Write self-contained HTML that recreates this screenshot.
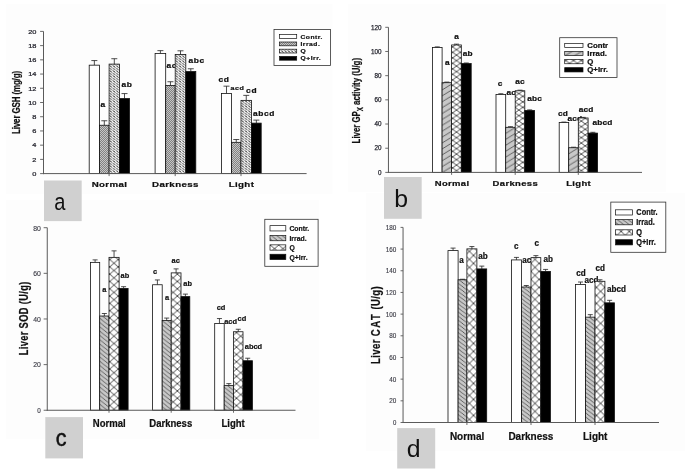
<!DOCTYPE html>
<html><head><meta charset="utf-8"><title>Figure</title>
<style>
html,body{margin:0;padding:0;background:#fff;}
body{width:685px;height:470px;overflow:hidden;font-family:"Liberation Sans", sans-serif;}
svg{display:block;filter:blur(0.45px);}
</style></head><body>
<svg width="685" height="470" viewBox="0 0 685 470" font-family='"Liberation Sans", sans-serif'>
<defs>
<pattern id="aI" width="2" height="2" patternUnits="userSpaceOnUse"><rect width="2" height="2" fill="#c6c6c6"/><path d="M-0.5 2.5L2.5 -0.5M-0.5 0.5L0.5 -0.5M1.5 2.5L2.5 1.5" stroke="#5c5c5c" stroke-width="0.65"/></pattern>
<pattern id="aQ" width="3.3" height="2.5" patternUnits="userSpaceOnUse" patternTransform="translate(109.1 0.3)"><rect width="3.3" height="2.5" fill="#fff"/><path d="M-0.4 -0.25L3.7 2.75" stroke="#555" stroke-width="0.4"/><path d="M0.45 0.33L2.85 2.02" stroke="#1a1a1a" stroke-width="0.78"/></pattern>
<pattern id="bI" width="9.6" height="5.9" patternUnits="userSpaceOnUse" patternTransform="translate(442.1 101.76)"><rect width="9.6" height="5.9" fill="#c8c8c8"/><path d="M-9.6 11.8L19.2 -5.9M-9.6 5.9L9.6 -5.9M0 11.8L19.2 0" stroke="#333" stroke-width="0.7"/></pattern>
<pattern id="bQ" width="7.8" height="5.5" patternUnits="userSpaceOnUse" patternTransform="translate(456.5 49.6)"><rect width="7.8" height="5.5" fill="#fff"/><path d="M0 0L7.8 5.5M7.8 0L0 5.5" stroke="#222" stroke-width="0.8"/></pattern>
<pattern id="cI" width="5.4" height="4.3" patternUnits="userSpaceOnUse" patternTransform="translate(99.7 0)"><rect width="5.4" height="4.3" fill="#c8c8c8"/><path d="M-5.4 -4.3L10.8 8.6M0 -4.3L10.8 4.3M-5.4 0L5.4 8.6" stroke="#333" stroke-width="0.7"/></pattern>
<pattern id="cQ" width="8.45" height="7.3" patternUnits="userSpaceOnUse" patternTransform="translate(236.5 332.55)"><rect width="8.45" height="7.3" fill="#fff"/><path d="M0 0L8.45 7.3M8.45 0L0 7.3" stroke="#222" stroke-width="0.8"/></pattern>
<pattern id="dI" width="5.4" height="4.1" patternUnits="userSpaceOnUse" patternTransform="translate(457.6 0)"><rect width="5.4" height="4.1" fill="#c8c8c8"/><path d="M-5.4 -4.1L10.8 8.2M0 -4.1L10.8 4.1M-5.4 0L5.4 8.2" stroke="#333" stroke-width="0.7"/></pattern>
<pattern id="dQ" width="8.2" height="8.0" patternUnits="userSpaceOnUse" patternTransform="translate(465.3 295.4)"><rect width="8.2" height="8.0" fill="#fff"/><path d="M0 0L8.2 8.0M8.2 0L0 8.0" stroke="#222" stroke-width="0.8"/></pattern>
</defs>
<rect width="685" height="470" fill="#fff"/>
<rect x="6" y="4" width="326.5" height="190" fill="#fdfdfd"/>
<rect x="348" y="4" width="318" height="188" fill="#fdfdfd"/>
<rect x="6" y="200" width="313" height="239" fill="#fdfdfd"/>
<rect x="366" y="193" width="319" height="258" fill="#fdfdfd"/>
<g id="chart-a">
<text transform="translate(100.40 107.30) scale(1.27 1)" font-size="6.6" font-weight="bold" text-anchor="start" fill="#111" letter-spacing="0.5" stroke="#111" stroke-width="0.22">a</text>
<text transform="translate(121.40 86.90) scale(1.27 1)" font-size="6.6" font-weight="bold" text-anchor="start" fill="#111" letter-spacing="0.5" stroke="#111" stroke-width="0.22">ab</text>
<text transform="translate(166.40 67.60) scale(1.27 1)" font-size="6.6" font-weight="bold" text-anchor="start" fill="#111" letter-spacing="0.5" stroke="#111" stroke-width="0.22">ac</text>
<text transform="translate(188.50 63.10) scale(1.27 1)" font-size="6.6" font-weight="bold" text-anchor="start" fill="#111" letter-spacing="0.5" stroke="#111" stroke-width="0.22">abc</text>
<text transform="translate(218.40 81.60) scale(1.27 1)" font-size="6.6" font-weight="bold" text-anchor="start" fill="#111" letter-spacing="0.5" stroke="#111" stroke-width="0.22">cd</text>
<text transform="translate(230.40 90.30) scale(1.27 1)" font-size="5.609999999999999" font-weight="bold" text-anchor="start" fill="#111" letter-spacing="0.5" stroke="#111" stroke-width="0.22">acd</text>
<text transform="translate(246.10 93.10) scale(1.27 1)" font-size="6.6" font-weight="bold" text-anchor="start" fill="#111" letter-spacing="0.5" stroke="#111" stroke-width="0.22">cd</text>
<text transform="translate(252.90 115.80) scale(1.27 1)" font-size="6.6" font-weight="bold" text-anchor="start" fill="#111" letter-spacing="0.5" stroke="#111" stroke-width="0.22">abcd</text>
<line x1="94.35" y1="65.17" x2="94.35" y2="60.57" stroke="#222" stroke-width="0.8"/>
<line x1="91.35" y1="60.57" x2="97.35" y2="60.57" stroke="#222" stroke-width="0.8"/>
<rect x="89.20" y="65.17" width="10.30" height="108.43" fill="#fff" stroke="#111" stroke-width="0.8"/>
<line x1="104.30" y1="125.25" x2="104.30" y2="120.75" stroke="#222" stroke-width="0.8"/>
<line x1="101.30" y1="120.75" x2="107.30" y2="120.75" stroke="#222" stroke-width="0.8"/>
<rect x="99.50" y="125.25" width="9.60" height="48.35" fill="url(#aI)" stroke="#111" stroke-width="0.8"/>
<line x1="114.30" y1="64.11" x2="114.30" y2="58.71" stroke="#222" stroke-width="0.8"/>
<line x1="111.30" y1="58.71" x2="117.30" y2="58.71" stroke="#222" stroke-width="0.8"/>
<rect x="109.10" y="64.11" width="10.40" height="109.49" fill="url(#aQ)" stroke="#111" stroke-width="0.8"/>
<line x1="124.50" y1="98.59" x2="124.50" y2="93.59" stroke="#222" stroke-width="0.8"/>
<line x1="121.50" y1="93.59" x2="127.50" y2="93.59" stroke="#222" stroke-width="0.8"/>
<rect x="119.50" y="98.59" width="10.00" height="75.01" fill="#000" stroke="#111" stroke-width="0.8"/>
<line x1="160.40" y1="53.44" x2="160.40" y2="50.64" stroke="#222" stroke-width="0.8"/>
<line x1="157.40" y1="50.64" x2="163.40" y2="50.64" stroke="#222" stroke-width="0.8"/>
<rect x="155.10" y="53.44" width="10.60" height="120.16" fill="#fff" stroke="#111" stroke-width="0.8"/>
<line x1="170.45" y1="85.44" x2="170.45" y2="81.74" stroke="#222" stroke-width="0.8"/>
<line x1="167.45" y1="81.74" x2="173.45" y2="81.74" stroke="#222" stroke-width="0.8"/>
<rect x="165.70" y="85.44" width="9.50" height="88.16" fill="url(#aI)" stroke="#111" stroke-width="0.8"/>
<line x1="180.50" y1="54.51" x2="180.50" y2="50.81" stroke="#222" stroke-width="0.8"/>
<line x1="177.50" y1="50.81" x2="183.50" y2="50.81" stroke="#222" stroke-width="0.8"/>
<rect x="175.20" y="54.51" width="10.60" height="119.09" fill="url(#aQ)" stroke="#111" stroke-width="0.8"/>
<line x1="190.80" y1="71.57" x2="190.80" y2="68.77" stroke="#222" stroke-width="0.8"/>
<line x1="187.80" y1="68.77" x2="193.80" y2="68.77" stroke="#222" stroke-width="0.8"/>
<rect x="185.80" y="71.57" width="10.00" height="102.03" fill="#000" stroke="#111" stroke-width="0.8"/>
<line x1="226.50" y1="93.47" x2="226.50" y2="86.17" stroke="#222" stroke-width="0.8"/>
<line x1="223.50" y1="86.17" x2="229.50" y2="86.17" stroke="#222" stroke-width="0.8"/>
<rect x="221.50" y="93.47" width="10.00" height="80.13" fill="#fff" stroke="#111" stroke-width="0.8"/>
<line x1="236.25" y1="142.32" x2="236.25" y2="139.52" stroke="#222" stroke-width="0.8"/>
<line x1="233.25" y1="139.52" x2="239.25" y2="139.52" stroke="#222" stroke-width="0.8"/>
<rect x="231.50" y="142.32" width="9.50" height="31.28" fill="url(#aI)" stroke="#111" stroke-width="0.8"/>
<line x1="246.25" y1="100.37" x2="246.25" y2="95.37" stroke="#222" stroke-width="0.8"/>
<line x1="243.25" y1="95.37" x2="249.25" y2="95.37" stroke="#222" stroke-width="0.8"/>
<rect x="241.00" y="100.37" width="10.50" height="73.23" fill="url(#aQ)" stroke="#111" stroke-width="0.8"/>
<line x1="256.35" y1="123.12" x2="256.35" y2="120.12" stroke="#222" stroke-width="0.8"/>
<line x1="253.35" y1="120.12" x2="259.35" y2="120.12" stroke="#222" stroke-width="0.8"/>
<rect x="251.50" y="123.12" width="9.70" height="50.48" fill="#000" stroke="#111" stroke-width="0.8"/>
<line x1="43.50" y1="31.40" x2="43.50" y2="174.10" stroke="#5a5a5a" stroke-width="1.0"/>
<line x1="43.00" y1="173.60" x2="306.60" y2="173.60" stroke="#5a5a5a" stroke-width="1.0"/>
<line x1="40.10" y1="173.60" x2="43.50" y2="173.60" stroke="#5a5a5a" stroke-width="0.9"/>
<text transform="translate(36.50 175.83) scale(1.2 1)" font-size="6.2" font-weight="normal" text-anchor="end" fill="#2a2a33" stroke="#2a2a33" stroke-width="0.25">0</text>
<line x1="40.10" y1="159.38" x2="43.50" y2="159.38" stroke="#5a5a5a" stroke-width="0.9"/>
<text transform="translate(36.50 161.61) scale(1.2 1)" font-size="6.2" font-weight="normal" text-anchor="end" fill="#2a2a33" stroke="#2a2a33" stroke-width="0.25">2</text>
<line x1="40.10" y1="145.16" x2="43.50" y2="145.16" stroke="#5a5a5a" stroke-width="0.9"/>
<text transform="translate(36.50 147.39) scale(1.2 1)" font-size="6.2" font-weight="normal" text-anchor="end" fill="#2a2a33" stroke="#2a2a33" stroke-width="0.25">4</text>
<line x1="40.10" y1="130.94" x2="43.50" y2="130.94" stroke="#5a5a5a" stroke-width="0.9"/>
<text transform="translate(36.50 133.17) scale(1.2 1)" font-size="6.2" font-weight="normal" text-anchor="end" fill="#2a2a33" stroke="#2a2a33" stroke-width="0.25">6</text>
<line x1="40.10" y1="116.72" x2="43.50" y2="116.72" stroke="#5a5a5a" stroke-width="0.9"/>
<text transform="translate(36.50 118.95) scale(1.2 1)" font-size="6.2" font-weight="normal" text-anchor="end" fill="#2a2a33" stroke="#2a2a33" stroke-width="0.25">8</text>
<line x1="40.10" y1="102.50" x2="43.50" y2="102.50" stroke="#5a5a5a" stroke-width="0.9"/>
<text transform="translate(36.50 104.73) scale(1.2 1)" font-size="6.2" font-weight="normal" text-anchor="end" fill="#2a2a33" stroke="#2a2a33" stroke-width="0.25">10</text>
<line x1="40.10" y1="88.28" x2="43.50" y2="88.28" stroke="#5a5a5a" stroke-width="0.9"/>
<text transform="translate(36.50 90.51) scale(1.2 1)" font-size="6.2" font-weight="normal" text-anchor="end" fill="#2a2a33" stroke="#2a2a33" stroke-width="0.25">12</text>
<line x1="40.10" y1="74.06" x2="43.50" y2="74.06" stroke="#5a5a5a" stroke-width="0.9"/>
<text transform="translate(36.50 76.29) scale(1.2 1)" font-size="6.2" font-weight="normal" text-anchor="end" fill="#2a2a33" stroke="#2a2a33" stroke-width="0.25">14</text>
<line x1="40.10" y1="59.84" x2="43.50" y2="59.84" stroke="#5a5a5a" stroke-width="0.9"/>
<text transform="translate(36.50 62.07) scale(1.2 1)" font-size="6.2" font-weight="normal" text-anchor="end" fill="#2a2a33" stroke="#2a2a33" stroke-width="0.25">16</text>
<line x1="40.10" y1="45.62" x2="43.50" y2="45.62" stroke="#5a5a5a" stroke-width="0.9"/>
<text transform="translate(36.50 47.85) scale(1.2 1)" font-size="6.2" font-weight="normal" text-anchor="end" fill="#2a2a33" stroke="#2a2a33" stroke-width="0.25">18</text>
<line x1="40.10" y1="31.40" x2="43.50" y2="31.40" stroke="#5a5a5a" stroke-width="0.9"/>
<text transform="translate(36.50 33.63) scale(1.2 1)" font-size="6.2" font-weight="normal" text-anchor="end" fill="#2a2a33" stroke="#2a2a33" stroke-width="0.25">20</text>
<line x1="109.10" y1="173.60" x2="109.10" y2="176.10" stroke="#5a5a5a" stroke-width="0.9"/>
<text transform="translate(91.70 187.20) scale(1.2 1)" font-size="8.1" font-weight="bold" text-anchor="start" fill="#111" letter-spacing="0.3" stroke="#111" stroke-width="0.22">Normal</text>
<line x1="175.20" y1="173.60" x2="175.20" y2="176.10" stroke="#5a5a5a" stroke-width="0.9"/>
<text transform="translate(152.10 187.20) scale(1.2 1)" font-size="8.1" font-weight="bold" text-anchor="start" fill="#111" letter-spacing="0.3" stroke="#111" stroke-width="0.22">Darkness</text>
<line x1="241.00" y1="173.60" x2="241.00" y2="176.10" stroke="#5a5a5a" stroke-width="0.9"/>
<text transform="translate(228.70 187.20) scale(1.2 1)" font-size="8.1" font-weight="bold" text-anchor="start" fill="#111" letter-spacing="0.3" stroke="#111" stroke-width="0.22">Light</text>
<text transform="translate(19.70 134.00) rotate(-90) scale(0.78 1)" font-size="10.2" font-weight="bold" text-anchor="start" fill="#111" letter-spacing="-0.15" stroke="#111" stroke-width="0.22">Liver GSH (mg/g)</text>
<rect x="274.00" y="29.40" width="56.40" height="36.10" fill="#fff" stroke="#333" stroke-width="0.8"/>
<rect x="279.60" y="34.60" width="17.10" height="3.80" fill="#fff" stroke="#111" stroke-width="0.7"/>
<text transform="translate(300.50 38.54) scale(1.12 1)" font-size="6.0" font-weight="bold" text-anchor="start" fill="#111" letter-spacing="0.45" stroke="#111" stroke-width="0.22">Contr.</text>
<rect x="279.60" y="42.00" width="17.10" height="3.80" fill="url(#aI)" stroke="#111" stroke-width="0.7"/>
<text transform="translate(300.50 45.94) scale(1.12 1)" font-size="6.0" font-weight="bold" text-anchor="start" fill="#111" letter-spacing="0.45" stroke="#111" stroke-width="0.22">Irrad.</text>
<rect x="279.60" y="49.20" width="17.10" height="3.80" fill="url(#aQ)" stroke="#111" stroke-width="0.7"/>
<text transform="translate(300.50 53.14) scale(1.12 1)" font-size="6.0" font-weight="bold" text-anchor="start" fill="#111" letter-spacing="0.45" stroke="#111" stroke-width="0.22">Q</text>
<rect x="279.60" y="56.40" width="17.10" height="3.80" fill="#000" stroke="#111" stroke-width="0.7"/>
<text transform="translate(300.50 60.34) scale(1.12 1)" font-size="6.0" font-weight="bold" text-anchor="start" fill="#111" letter-spacing="0.45" stroke="#111" stroke-width="0.22">Q+Irr.</text>
<rect x="44.00" y="180.50" width="37.70" height="40.60" fill="#d0d0d0"/>
<text transform="translate(59.80 209.60) scale(0.82 1)" font-size="24.5" font-weight="normal" text-anchor="middle" fill="#111">a</text>
</g>
<g id="chart-b">
<text transform="translate(454.20 38.70) scale(1.15 1)" font-size="7.2" font-weight="bold" text-anchor="start" fill="#111" letter-spacing="0.15" stroke="#111" stroke-width="0.22">a</text>
<text transform="translate(445.00 64.60) scale(1.15 1)" font-size="7.2" font-weight="bold" text-anchor="start" fill="#111" letter-spacing="0.15" stroke="#111" stroke-width="0.22">a</text>
<text transform="translate(462.80 55.90) scale(1.15 1)" font-size="7.2" font-weight="bold" text-anchor="start" fill="#111" letter-spacing="0.15" stroke="#111" stroke-width="0.22">ab</text>
<text transform="translate(497.80 85.60) scale(1.15 1)" font-size="7.2" font-weight="bold" text-anchor="start" fill="#111" letter-spacing="0.15" stroke="#111" stroke-width="0.22">c</text>
<text transform="translate(506.40 95.30) scale(1.15 1)" font-size="7.2" font-weight="bold" text-anchor="start" fill="#111" letter-spacing="0.15" stroke="#111" stroke-width="0.22">ac</text>
<text transform="translate(515.20 84.00) scale(1.15 1)" font-size="7.2" font-weight="bold" text-anchor="start" fill="#111" letter-spacing="0.15" stroke="#111" stroke-width="0.22">ac</text>
<text transform="translate(527.30 101.00) scale(1.15 1)" font-size="7.2" font-weight="bold" text-anchor="start" fill="#111" letter-spacing="0.15" stroke="#111" stroke-width="0.22">abc</text>
<text transform="translate(558.00 116.20) scale(1.15 1)" font-size="7.2" font-weight="bold" text-anchor="start" fill="#111" letter-spacing="0.15" stroke="#111" stroke-width="0.22">cd</text>
<text transform="translate(567.50 121.30) scale(1.15 1)" font-size="7.2" font-weight="bold" text-anchor="start" fill="#111" letter-spacing="0.15" stroke="#111" stroke-width="0.22">acd</text>
<text transform="translate(578.80 111.90) scale(1.15 1)" font-size="7.2" font-weight="bold" text-anchor="start" fill="#111" letter-spacing="0.15" stroke="#111" stroke-width="0.22">acd</text>
<text transform="translate(592.40 124.50) scale(1.15 1)" font-size="7.2" font-weight="bold" text-anchor="start" fill="#111" letter-spacing="0.15" stroke="#111" stroke-width="0.22">abcd</text>
<line x1="437.25" y1="47.49" x2="437.25" y2="46.89" stroke="#222" stroke-width="0.8"/>
<line x1="434.75" y1="46.89" x2="439.75" y2="46.89" stroke="#222" stroke-width="0.8"/>
<rect x="432.40" y="47.49" width="9.70" height="124.91" fill="#fff" stroke="#111" stroke-width="0.8"/>
<line x1="446.85" y1="82.68" x2="446.85" y2="82.08" stroke="#222" stroke-width="0.8"/>
<line x1="444.35" y1="82.08" x2="449.35" y2="82.08" stroke="#222" stroke-width="0.8"/>
<rect x="442.10" y="82.68" width="9.50" height="89.72" fill="url(#bI)" stroke="#111" stroke-width="0.8"/>
<line x1="456.45" y1="44.95" x2="456.45" y2="44.15" stroke="#222" stroke-width="0.8"/>
<line x1="453.95" y1="44.15" x2="458.95" y2="44.15" stroke="#222" stroke-width="0.8"/>
<rect x="451.60" y="44.95" width="9.70" height="127.45" fill="url(#bQ)" stroke="#111" stroke-width="0.8"/>
<line x1="466.25" y1="63.58" x2="466.25" y2="62.98" stroke="#222" stroke-width="0.8"/>
<line x1="463.75" y1="62.98" x2="468.75" y2="62.98" stroke="#222" stroke-width="0.8"/>
<rect x="461.30" y="63.58" width="9.90" height="108.83" fill="#000" stroke="#111" stroke-width="0.8"/>
<line x1="500.85" y1="94.53" x2="500.85" y2="93.73" stroke="#222" stroke-width="0.8"/>
<line x1="498.35" y1="93.73" x2="503.35" y2="93.73" stroke="#222" stroke-width="0.8"/>
<rect x="496.00" y="94.53" width="9.70" height="77.87" fill="#fff" stroke="#111" stroke-width="0.8"/>
<line x1="510.45" y1="127.30" x2="510.45" y2="126.70" stroke="#222" stroke-width="0.8"/>
<line x1="507.95" y1="126.70" x2="512.95" y2="126.70" stroke="#222" stroke-width="0.8"/>
<rect x="505.70" y="127.30" width="9.50" height="45.10" fill="url(#bI)" stroke="#111" stroke-width="0.8"/>
<line x1="520.00" y1="90.78" x2="520.00" y2="90.18" stroke="#222" stroke-width="0.8"/>
<line x1="517.50" y1="90.18" x2="522.50" y2="90.18" stroke="#222" stroke-width="0.8"/>
<rect x="515.20" y="90.78" width="9.60" height="81.62" fill="url(#bQ)" stroke="#111" stroke-width="0.8"/>
<line x1="529.70" y1="110.49" x2="529.70" y2="109.89" stroke="#222" stroke-width="0.8"/>
<line x1="527.20" y1="109.89" x2="532.20" y2="109.89" stroke="#222" stroke-width="0.8"/>
<rect x="524.80" y="110.49" width="9.80" height="61.91" fill="#000" stroke="#111" stroke-width="0.8"/>
<line x1="563.95" y1="122.58" x2="563.95" y2="122.08" stroke="#222" stroke-width="0.8"/>
<line x1="561.45" y1="122.08" x2="566.45" y2="122.08" stroke="#222" stroke-width="0.8"/>
<rect x="559.20" y="122.58" width="9.50" height="49.82" fill="#fff" stroke="#111" stroke-width="0.8"/>
<line x1="573.50" y1="147.73" x2="573.50" y2="147.23" stroke="#222" stroke-width="0.8"/>
<line x1="571.00" y1="147.23" x2="576.00" y2="147.23" stroke="#222" stroke-width="0.8"/>
<rect x="568.70" y="147.73" width="9.60" height="24.67" fill="url(#bI)" stroke="#111" stroke-width="0.8"/>
<line x1="583.20" y1="117.99" x2="583.20" y2="117.39" stroke="#222" stroke-width="0.8"/>
<line x1="580.70" y1="117.39" x2="585.70" y2="117.39" stroke="#222" stroke-width="0.8"/>
<rect x="578.30" y="117.99" width="9.80" height="54.41" fill="url(#bQ)" stroke="#111" stroke-width="0.8"/>
<line x1="592.85" y1="133.10" x2="592.85" y2="132.30" stroke="#222" stroke-width="0.8"/>
<line x1="590.35" y1="132.30" x2="595.35" y2="132.30" stroke="#222" stroke-width="0.8"/>
<rect x="588.10" y="133.10" width="9.50" height="39.30" fill="#000" stroke="#111" stroke-width="0.8"/>
<line x1="388.45" y1="27.30" x2="388.45" y2="172.90" stroke="#5a5a5a" stroke-width="1.0"/>
<line x1="387.95" y1="172.40" x2="642.00" y2="172.40" stroke="#5a5a5a" stroke-width="1.0"/>
<line x1="385.25" y1="172.40" x2="388.45" y2="172.40" stroke="#5a5a5a" stroke-width="0.9"/>
<text transform="translate(381.45 174.67)" font-size="6.3" font-weight="normal" text-anchor="end" fill="#2a2a33" stroke="#2a2a33" stroke-width="0.25">0</text>
<line x1="385.25" y1="148.22" x2="388.45" y2="148.22" stroke="#5a5a5a" stroke-width="0.9"/>
<text transform="translate(381.45 150.48)" font-size="6.3" font-weight="normal" text-anchor="end" fill="#2a2a33" stroke="#2a2a33" stroke-width="0.25">20</text>
<line x1="385.25" y1="124.03" x2="388.45" y2="124.03" stroke="#5a5a5a" stroke-width="0.9"/>
<text transform="translate(381.45 126.30)" font-size="6.3" font-weight="normal" text-anchor="end" fill="#2a2a33" stroke="#2a2a33" stroke-width="0.25">40</text>
<line x1="385.25" y1="99.85" x2="388.45" y2="99.85" stroke="#5a5a5a" stroke-width="0.9"/>
<text transform="translate(381.45 102.12)" font-size="6.3" font-weight="normal" text-anchor="end" fill="#2a2a33" stroke="#2a2a33" stroke-width="0.25">60</text>
<line x1="385.25" y1="75.67" x2="388.45" y2="75.67" stroke="#5a5a5a" stroke-width="0.9"/>
<text transform="translate(381.45 77.93)" font-size="6.3" font-weight="normal" text-anchor="end" fill="#2a2a33" stroke="#2a2a33" stroke-width="0.25">80</text>
<line x1="385.25" y1="51.48" x2="388.45" y2="51.48" stroke="#5a5a5a" stroke-width="0.9"/>
<text transform="translate(381.45 53.75)" font-size="6.3" font-weight="normal" text-anchor="end" fill="#2a2a33" stroke="#2a2a33" stroke-width="0.25">100</text>
<line x1="385.25" y1="27.30" x2="388.45" y2="27.30" stroke="#5a5a5a" stroke-width="0.9"/>
<text transform="translate(381.45 29.57)" font-size="6.3" font-weight="normal" text-anchor="end" fill="#2a2a33" stroke="#2a2a33" stroke-width="0.25">120</text>
<line x1="451.60" y1="172.40" x2="451.60" y2="174.90" stroke="#5a5a5a" stroke-width="0.9"/>
<text transform="translate(434.70 185.70) scale(1.17 1)" font-size="8.1" font-weight="bold" text-anchor="start" fill="#111" letter-spacing="0.3" stroke="#111" stroke-width="0.22">Normal</text>
<line x1="515.20" y1="172.40" x2="515.20" y2="174.90" stroke="#5a5a5a" stroke-width="0.9"/>
<text transform="translate(492.60 185.70) scale(1.17 1)" font-size="8.1" font-weight="bold" text-anchor="start" fill="#111" letter-spacing="0.3" stroke="#111" stroke-width="0.22">Darkness</text>
<line x1="578.30" y1="172.40" x2="578.30" y2="174.90" stroke="#5a5a5a" stroke-width="0.9"/>
<text transform="translate(566.20 185.70) scale(1.17 1)" font-size="8.1" font-weight="bold" text-anchor="start" fill="#111" letter-spacing="0.3" stroke="#111" stroke-width="0.22">Light</text>
<text transform="translate(360.20 143.40) rotate(-90) scale(0.725 1)" font-size="10.8" font-weight="bold" text-anchor="start" fill="#111" stroke="#111" stroke-width="0.22">Liver GP<tspan font-size="8.5" dy="2.4">X</tspan><tspan dy="-2.4"> activity (U/g)</tspan></text>
<rect x="559.70" y="37.70" width="57.30" height="39.70" fill="#fff" stroke="#333" stroke-width="0.8"/>
<rect x="564.70" y="43.35" width="18.30" height="4.30" fill="#fff" stroke="#111" stroke-width="0.7"/>
<text transform="translate(587.30 47.81) scale(1.15 1)" font-size="6.8" font-weight="bold" text-anchor="start" fill="#111" stroke="#111" stroke-width="0.22">Contr</text>
<rect x="564.70" y="51.35" width="18.30" height="4.30" fill="url(#bI)" stroke="#111" stroke-width="0.7"/>
<text transform="translate(587.30 55.81) scale(1.15 1)" font-size="6.8" font-weight="bold" text-anchor="start" fill="#111" stroke="#111" stroke-width="0.22">Irrad.</text>
<rect x="564.70" y="59.45" width="18.30" height="4.30" fill="url(#bQ)" stroke="#111" stroke-width="0.7"/>
<text transform="translate(587.30 63.91) scale(1.15 1)" font-size="6.8" font-weight="bold" text-anchor="start" fill="#111" stroke="#111" stroke-width="0.22">Q</text>
<rect x="564.70" y="67.65" width="18.30" height="4.30" fill="#000" stroke="#111" stroke-width="0.7"/>
<text transform="translate(587.30 72.11) scale(1.15 1)" font-size="6.8" font-weight="bold" text-anchor="start" fill="#111" stroke="#111" stroke-width="0.22">Q+Irr.</text>
<rect x="384.00" y="177.00" width="37.70" height="41.80" fill="#d0d0d0"/>
<text transform="translate(401.20 206.50)" font-size="24.8" font-weight="normal" text-anchor="middle" fill="#111">b</text>
</g>
<g id="chart-c">
<text transform="translate(102.30 291.90) scale(0.92 1)" font-size="8.1" font-weight="bold" text-anchor="start" fill="#111" stroke="#111" stroke-width="0.22">a</text>
<text transform="translate(120.60 278.40) scale(0.92 1)" font-size="8.1" font-weight="bold" text-anchor="start" fill="#111" stroke="#111" stroke-width="0.22">ab</text>
<text transform="translate(153.00 274.40) scale(0.92 1)" font-size="8.1" font-weight="bold" text-anchor="start" fill="#111" stroke="#111" stroke-width="0.22">c</text>
<text transform="translate(165.00 300.20) scale(0.92 1)" font-size="8.1" font-weight="bold" text-anchor="start" fill="#111" stroke="#111" stroke-width="0.22">a</text>
<text transform="translate(171.50 262.60) scale(0.92 1)" font-size="8.1" font-weight="bold" text-anchor="start" fill="#111" stroke="#111" stroke-width="0.22">ac</text>
<text transform="translate(183.30 286.40) scale(0.92 1)" font-size="8.1" font-weight="bold" text-anchor="start" fill="#111" stroke="#111" stroke-width="0.22">ab</text>
<text transform="translate(216.70 310.40) scale(0.92 1)" font-size="8.1" font-weight="bold" text-anchor="start" fill="#111" stroke="#111" stroke-width="0.22">cd</text>
<text transform="translate(224.20 324.20) scale(0.92 1)" font-size="8.1" font-weight="bold" text-anchor="start" fill="#111" stroke="#111" stroke-width="0.22">acd</text>
<text transform="translate(237.50 321.10) scale(0.92 1)" font-size="8.1" font-weight="bold" text-anchor="start" fill="#111" stroke="#111" stroke-width="0.22">cd</text>
<text transform="translate(244.80 349.40) scale(0.92 1)" font-size="8.1" font-weight="bold" text-anchor="start" fill="#111" stroke="#111" stroke-width="0.22">abcd</text>
<line x1="95.10" y1="262.38" x2="95.10" y2="259.88" stroke="#222" stroke-width="0.8"/>
<line x1="92.60" y1="259.88" x2="97.60" y2="259.88" stroke="#222" stroke-width="0.8"/>
<rect x="90.50" y="262.38" width="9.20" height="147.87" fill="#fff" stroke="#111" stroke-width="0.8"/>
<line x1="104.35" y1="316.01" x2="104.35" y2="313.51" stroke="#222" stroke-width="0.8"/>
<line x1="101.85" y1="313.51" x2="106.85" y2="313.51" stroke="#222" stroke-width="0.8"/>
<rect x="99.70" y="316.01" width="9.30" height="94.24" fill="url(#cI)" stroke="#111" stroke-width="0.8"/>
<line x1="114.05" y1="257.36" x2="114.05" y2="250.86" stroke="#222" stroke-width="0.8"/>
<line x1="111.55" y1="250.86" x2="116.55" y2="250.86" stroke="#222" stroke-width="0.8"/>
<rect x="109.00" y="257.36" width="10.10" height="152.89" fill="url(#cQ)" stroke="#111" stroke-width="0.8"/>
<line x1="123.60" y1="288.40" x2="123.60" y2="286.70" stroke="#222" stroke-width="0.8"/>
<line x1="121.10" y1="286.70" x2="126.10" y2="286.70" stroke="#222" stroke-width="0.8"/>
<rect x="119.10" y="288.40" width="9.00" height="121.85" fill="#000" stroke="#111" stroke-width="0.8"/>
<line x1="157.40" y1="284.75" x2="157.40" y2="279.95" stroke="#222" stroke-width="0.8"/>
<line x1="154.90" y1="279.95" x2="159.90" y2="279.95" stroke="#222" stroke-width="0.8"/>
<rect x="152.60" y="284.75" width="9.60" height="125.50" fill="#fff" stroke="#111" stroke-width="0.8"/>
<line x1="166.70" y1="320.57" x2="166.70" y2="318.07" stroke="#222" stroke-width="0.8"/>
<line x1="164.20" y1="318.07" x2="169.20" y2="318.07" stroke="#222" stroke-width="0.8"/>
<rect x="162.20" y="320.57" width="9.00" height="89.68" fill="url(#cI)" stroke="#111" stroke-width="0.8"/>
<line x1="176.10" y1="272.88" x2="176.10" y2="268.88" stroke="#222" stroke-width="0.8"/>
<line x1="173.60" y1="268.88" x2="178.60" y2="268.88" stroke="#222" stroke-width="0.8"/>
<rect x="171.20" y="272.88" width="9.80" height="137.37" fill="url(#cQ)" stroke="#111" stroke-width="0.8"/>
<line x1="185.40" y1="296.61" x2="185.40" y2="294.11" stroke="#222" stroke-width="0.8"/>
<line x1="182.90" y1="294.11" x2="187.90" y2="294.11" stroke="#222" stroke-width="0.8"/>
<rect x="181.00" y="296.61" width="8.80" height="113.64" fill="#000" stroke="#111" stroke-width="0.8"/>
<line x1="219.45" y1="323.54" x2="219.45" y2="318.54" stroke="#222" stroke-width="0.8"/>
<line x1="216.95" y1="318.54" x2="221.95" y2="318.54" stroke="#222" stroke-width="0.8"/>
<rect x="214.70" y="323.54" width="9.50" height="86.71" fill="#fff" stroke="#111" stroke-width="0.8"/>
<line x1="228.85" y1="385.61" x2="228.85" y2="383.61" stroke="#222" stroke-width="0.8"/>
<line x1="226.35" y1="383.61" x2="231.35" y2="383.61" stroke="#222" stroke-width="0.8"/>
<rect x="224.20" y="385.61" width="9.30" height="24.64" fill="url(#cI)" stroke="#111" stroke-width="0.8"/>
<line x1="238.25" y1="331.75" x2="238.25" y2="329.25" stroke="#222" stroke-width="0.8"/>
<line x1="235.75" y1="329.25" x2="240.75" y2="329.25" stroke="#222" stroke-width="0.8"/>
<rect x="233.50" y="331.75" width="9.50" height="78.50" fill="url(#cQ)" stroke="#111" stroke-width="0.8"/>
<line x1="247.70" y1="360.73" x2="247.70" y2="358.23" stroke="#222" stroke-width="0.8"/>
<line x1="245.20" y1="358.23" x2="250.20" y2="358.23" stroke="#222" stroke-width="0.8"/>
<rect x="243.00" y="360.73" width="9.40" height="49.52" fill="#000" stroke="#111" stroke-width="0.8"/>
<line x1="47.25" y1="227.70" x2="47.25" y2="410.75" stroke="#5a5a5a" stroke-width="1.0"/>
<line x1="46.75" y1="410.25" x2="295.50" y2="410.25" stroke="#5a5a5a" stroke-width="1.0"/>
<line x1="43.65" y1="410.25" x2="47.25" y2="410.25" stroke="#5a5a5a" stroke-width="0.9"/>
<text transform="translate(40.85 412.84) scale(0.88 1)" font-size="7.2" font-weight="normal" text-anchor="end" fill="#3c3c46" stroke="#3c3c46" stroke-width="0.15">0</text>
<line x1="43.65" y1="364.61" x2="47.25" y2="364.61" stroke="#5a5a5a" stroke-width="0.9"/>
<text transform="translate(40.85 367.42) scale(0.88 1)" font-size="7.8" font-weight="normal" text-anchor="end" fill="#3c3c46" stroke="#3c3c46" stroke-width="0.15">20</text>
<line x1="43.65" y1="318.98" x2="47.25" y2="318.98" stroke="#5a5a5a" stroke-width="0.9"/>
<text transform="translate(40.85 321.78) scale(0.88 1)" font-size="7.8" font-weight="normal" text-anchor="end" fill="#3c3c46" stroke="#3c3c46" stroke-width="0.15">40</text>
<line x1="43.65" y1="273.34" x2="47.25" y2="273.34" stroke="#5a5a5a" stroke-width="0.9"/>
<text transform="translate(40.85 276.15) scale(0.88 1)" font-size="7.8" font-weight="normal" text-anchor="end" fill="#3c3c46" stroke="#3c3c46" stroke-width="0.15">60</text>
<line x1="43.65" y1="227.70" x2="47.25" y2="227.70" stroke="#5a5a5a" stroke-width="0.9"/>
<text transform="translate(40.85 230.51) scale(0.88 1)" font-size="7.8" font-weight="normal" text-anchor="end" fill="#3c3c46" stroke="#3c3c46" stroke-width="0.15">80</text>
<line x1="109.00" y1="410.25" x2="109.00" y2="412.75" stroke="#5a5a5a" stroke-width="0.9"/>
<text transform="translate(92.80 426.90) scale(0.91 1)" font-size="10.5" font-weight="bold" text-anchor="start" fill="#111" stroke="#111" stroke-width="0.22">Normal</text>
<line x1="171.20" y1="410.25" x2="171.20" y2="412.75" stroke="#5a5a5a" stroke-width="0.9"/>
<text transform="translate(149.30 426.90) scale(0.91 1)" font-size="10.5" font-weight="bold" text-anchor="start" fill="#111" stroke="#111" stroke-width="0.22">Darkness</text>
<line x1="233.50" y1="410.25" x2="233.50" y2="412.75" stroke="#5a5a5a" stroke-width="0.9"/>
<text transform="translate(221.50 426.90) scale(0.91 1)" font-size="10.5" font-weight="bold" text-anchor="start" fill="#111" stroke="#111" stroke-width="0.22">Light</text>
<text transform="translate(27.50 355.30) rotate(-90) scale(0.77 1)" font-size="12" font-weight="bold" text-anchor="start" fill="#111" letter-spacing="0.5" stroke="#111" stroke-width="0.22">Liver SOD (U/g)</text>
<rect x="264.80" y="219.30" width="53.30" height="47.00" fill="#fff" stroke="#333" stroke-width="0.8"/>
<rect x="270.00" y="225.65" width="15.80" height="5.30" fill="#fff" stroke="#111" stroke-width="0.7"/>
<text transform="translate(289.40 231.02) scale(0.86 1)" font-size="8" font-weight="bold" text-anchor="start" fill="#111" stroke="#111" stroke-width="0.22">Contr.</text>
<rect x="270.00" y="235.45" width="15.80" height="5.30" fill="url(#cI)" stroke="#111" stroke-width="0.7"/>
<text transform="translate(289.40 240.82) scale(0.86 1)" font-size="8" font-weight="bold" text-anchor="start" fill="#111" stroke="#111" stroke-width="0.22">Irrad.</text>
<rect x="270.00" y="244.85" width="15.80" height="5.30" fill="url(#cQ)" stroke="#111" stroke-width="0.7"/>
<text transform="translate(289.40 250.22) scale(0.86 1)" font-size="8" font-weight="bold" text-anchor="start" fill="#111" stroke="#111" stroke-width="0.22">Q</text>
<rect x="270.00" y="254.25" width="15.80" height="5.30" fill="#000" stroke="#111" stroke-width="0.7"/>
<text transform="translate(289.40 259.62) scale(0.86 1)" font-size="8" font-weight="bold" text-anchor="start" fill="#111" stroke="#111" stroke-width="0.22">Q+Irr.</text>
<rect x="45.30" y="417.10" width="37.70" height="41.30" fill="#d0d0d0"/>
<text transform="translate(61.20 446.30) scale(0.88 1)" font-size="24.5" font-weight="normal" text-anchor="middle" fill="#111" stroke="#111" stroke-width="0.5">c</text>
</g>
<g id="chart-d">
<text transform="translate(459.20 263.20) scale(0.93 1)" font-size="8.7" font-weight="bold" text-anchor="start" fill="#111" stroke="#111" stroke-width="0.22">a</text>
<text transform="translate(478.30 259.40) scale(0.93 1)" font-size="8.7" font-weight="bold" text-anchor="start" fill="#111" stroke="#111" stroke-width="0.22">ab</text>
<text transform="translate(514.00 249.40) scale(0.93 1)" font-size="8.7" font-weight="bold" text-anchor="start" fill="#111" stroke="#111" stroke-width="0.22">c</text>
<text transform="translate(522.30 262.70) scale(0.93 1)" font-size="8.7" font-weight="bold" text-anchor="start" fill="#111" stroke="#111" stroke-width="0.22">ac</text>
<text transform="translate(534.60 246.10) scale(0.93 1)" font-size="8.7" font-weight="bold" text-anchor="start" fill="#111" stroke="#111" stroke-width="0.22">c</text>
<text transform="translate(543.60 262.40) scale(0.93 1)" font-size="8.7" font-weight="bold" text-anchor="start" fill="#111" stroke="#111" stroke-width="0.22">ab</text>
<text transform="translate(576.30 276.30) scale(0.93 1)" font-size="8.7" font-weight="bold" text-anchor="start" fill="#111" stroke="#111" stroke-width="0.22">cd</text>
<text transform="translate(584.60 282.80) scale(0.93 1)" font-size="8.7" font-weight="bold" text-anchor="start" fill="#111" stroke="#111" stroke-width="0.22">acd</text>
<text transform="translate(595.60 271.20) scale(0.93 1)" font-size="8.7" font-weight="bold" text-anchor="start" fill="#111" stroke="#111" stroke-width="0.22">cd</text>
<text transform="translate(607.00 292.10) scale(0.93 1)" font-size="8.7" font-weight="bold" text-anchor="start" fill="#111" stroke="#111" stroke-width="0.22">abcd</text>
<line x1="453.05" y1="250.60" x2="453.05" y2="248.10" stroke="#222" stroke-width="0.8"/>
<line x1="450.55" y1="248.10" x2="455.55" y2="248.10" stroke="#222" stroke-width="0.8"/>
<rect x="448.00" y="250.60" width="10.10" height="171.90" fill="#fff" stroke="#111" stroke-width="0.8"/>
<line x1="462.50" y1="279.75" x2="462.50" y2="279.25" stroke="#222" stroke-width="0.8"/>
<line x1="460.00" y1="279.25" x2="465.00" y2="279.25" stroke="#222" stroke-width="0.8"/>
<rect x="458.10" y="279.75" width="8.80" height="142.75" fill="url(#dI)" stroke="#111" stroke-width="0.8"/>
<line x1="471.90" y1="248.86" x2="471.90" y2="246.56" stroke="#222" stroke-width="0.8"/>
<line x1="469.40" y1="246.56" x2="474.40" y2="246.56" stroke="#222" stroke-width="0.8"/>
<rect x="466.90" y="248.86" width="10.00" height="173.64" fill="url(#dQ)" stroke="#111" stroke-width="0.8"/>
<line x1="481.80" y1="268.91" x2="481.80" y2="266.11" stroke="#222" stroke-width="0.8"/>
<line x1="479.30" y1="266.11" x2="484.30" y2="266.11" stroke="#222" stroke-width="0.8"/>
<rect x="476.90" y="268.91" width="9.80" height="153.59" fill="#000" stroke="#111" stroke-width="0.8"/>
<line x1="516.45" y1="259.92" x2="516.45" y2="257.42" stroke="#222" stroke-width="0.8"/>
<line x1="513.95" y1="257.42" x2="518.95" y2="257.42" stroke="#222" stroke-width="0.8"/>
<rect x="511.40" y="259.92" width="10.10" height="162.58" fill="#fff" stroke="#111" stroke-width="0.8"/>
<line x1="526.25" y1="287.01" x2="526.25" y2="285.51" stroke="#222" stroke-width="0.8"/>
<line x1="523.75" y1="285.51" x2="528.75" y2="285.51" stroke="#222" stroke-width="0.8"/>
<rect x="521.50" y="287.01" width="9.50" height="135.49" fill="url(#dI)" stroke="#111" stroke-width="0.8"/>
<line x1="535.90" y1="257.64" x2="535.90" y2="255.64" stroke="#222" stroke-width="0.8"/>
<line x1="533.40" y1="255.64" x2="538.40" y2="255.64" stroke="#222" stroke-width="0.8"/>
<rect x="531.00" y="257.64" width="9.80" height="164.86" fill="url(#dQ)" stroke="#111" stroke-width="0.8"/>
<line x1="545.60" y1="271.41" x2="545.60" y2="269.41" stroke="#222" stroke-width="0.8"/>
<line x1="543.10" y1="269.41" x2="548.10" y2="269.41" stroke="#222" stroke-width="0.8"/>
<rect x="540.80" y="271.41" width="9.60" height="151.09" fill="#000" stroke="#111" stroke-width="0.8"/>
<line x1="580.50" y1="284.52" x2="580.50" y2="282.02" stroke="#222" stroke-width="0.8"/>
<line x1="578.00" y1="282.02" x2="583.00" y2="282.02" stroke="#222" stroke-width="0.8"/>
<rect x="575.50" y="284.52" width="10.00" height="137.98" fill="#fff" stroke="#111" stroke-width="0.8"/>
<line x1="590.25" y1="317.15" x2="590.25" y2="314.65" stroke="#222" stroke-width="0.8"/>
<line x1="587.75" y1="314.65" x2="592.75" y2="314.65" stroke="#222" stroke-width="0.8"/>
<rect x="585.50" y="317.15" width="9.50" height="105.35" fill="url(#dI)" stroke="#111" stroke-width="0.8"/>
<line x1="599.95" y1="281.27" x2="599.95" y2="279.77" stroke="#222" stroke-width="0.8"/>
<line x1="597.45" y1="279.77" x2="602.45" y2="279.77" stroke="#222" stroke-width="0.8"/>
<rect x="595.00" y="281.27" width="9.90" height="141.23" fill="url(#dQ)" stroke="#111" stroke-width="0.8"/>
<line x1="609.65" y1="302.84" x2="609.65" y2="300.34" stroke="#222" stroke-width="0.8"/>
<line x1="607.15" y1="300.34" x2="612.15" y2="300.34" stroke="#222" stroke-width="0.8"/>
<rect x="604.90" y="302.84" width="9.50" height="119.66" fill="#000" stroke="#111" stroke-width="0.8"/>
<line x1="403.05" y1="227.40" x2="403.05" y2="423.00" stroke="#5a5a5a" stroke-width="1.0"/>
<line x1="402.55" y1="422.50" x2="659.00" y2="422.50" stroke="#5a5a5a" stroke-width="1.0"/>
<line x1="400.55" y1="422.50" x2="403.05" y2="422.50" stroke="#5a5a5a" stroke-width="0.9"/>
<text transform="translate(396.35 425.02) scale(0.86 1)" font-size="7" font-weight="normal" text-anchor="end" fill="#3c3c46" stroke="#3c3c46" stroke-width="0.15">0</text>
<line x1="400.55" y1="400.82" x2="403.05" y2="400.82" stroke="#5a5a5a" stroke-width="0.9"/>
<text transform="translate(396.35 403.49) scale(0.86 1)" font-size="7.4" font-weight="normal" text-anchor="end" fill="#3c3c46" stroke="#3c3c46" stroke-width="0.15">20</text>
<line x1="400.55" y1="379.14" x2="403.05" y2="379.14" stroke="#5a5a5a" stroke-width="0.9"/>
<text transform="translate(396.35 381.81) scale(0.86 1)" font-size="7.4" font-weight="normal" text-anchor="end" fill="#3c3c46" stroke="#3c3c46" stroke-width="0.15">40</text>
<line x1="400.55" y1="357.47" x2="403.05" y2="357.47" stroke="#5a5a5a" stroke-width="0.9"/>
<text transform="translate(396.35 360.13) scale(0.86 1)" font-size="7.4" font-weight="normal" text-anchor="end" fill="#3c3c46" stroke="#3c3c46" stroke-width="0.15">60</text>
<line x1="400.55" y1="335.79" x2="403.05" y2="335.79" stroke="#5a5a5a" stroke-width="0.9"/>
<text transform="translate(396.35 338.45) scale(0.86 1)" font-size="7.4" font-weight="normal" text-anchor="end" fill="#3c3c46" stroke="#3c3c46" stroke-width="0.15">80</text>
<line x1="400.55" y1="314.11" x2="403.05" y2="314.11" stroke="#5a5a5a" stroke-width="0.9"/>
<text transform="translate(396.35 316.78) scale(0.86 1)" font-size="7.4" font-weight="normal" text-anchor="end" fill="#3c3c46" stroke="#3c3c46" stroke-width="0.15">100</text>
<line x1="400.55" y1="292.43" x2="403.05" y2="292.43" stroke="#5a5a5a" stroke-width="0.9"/>
<text transform="translate(396.35 295.10) scale(0.86 1)" font-size="7.4" font-weight="normal" text-anchor="end" fill="#3c3c46" stroke="#3c3c46" stroke-width="0.15">120</text>
<line x1="400.55" y1="270.76" x2="403.05" y2="270.76" stroke="#5a5a5a" stroke-width="0.9"/>
<text transform="translate(396.35 273.42) scale(0.86 1)" font-size="7.4" font-weight="normal" text-anchor="end" fill="#3c3c46" stroke="#3c3c46" stroke-width="0.15">140</text>
<line x1="400.55" y1="249.08" x2="403.05" y2="249.08" stroke="#5a5a5a" stroke-width="0.9"/>
<text transform="translate(396.35 251.74) scale(0.86 1)" font-size="7.4" font-weight="normal" text-anchor="end" fill="#3c3c46" stroke="#3c3c46" stroke-width="0.15">160</text>
<line x1="400.55" y1="227.40" x2="403.05" y2="227.40" stroke="#5a5a5a" stroke-width="0.9"/>
<text transform="translate(396.35 230.06) scale(0.86 1)" font-size="7.4" font-weight="normal" text-anchor="end" fill="#3c3c46" stroke="#3c3c46" stroke-width="0.15">180</text>
<line x1="466.90" y1="422.50" x2="466.90" y2="425.00" stroke="#5a5a5a" stroke-width="0.9"/>
<text transform="translate(449.90 440.30) scale(0.91 1)" font-size="11" font-weight="bold" text-anchor="start" fill="#111" stroke="#111" stroke-width="0.22">Normal</text>
<line x1="531.00" y1="422.50" x2="531.00" y2="425.00" stroke="#5a5a5a" stroke-width="0.9"/>
<text transform="translate(508.40 440.30) scale(0.91 1)" font-size="11" font-weight="bold" text-anchor="start" fill="#111" stroke="#111" stroke-width="0.22">Darkness</text>
<line x1="595.00" y1="422.50" x2="595.00" y2="425.00" stroke="#5a5a5a" stroke-width="0.9"/>
<text transform="translate(583.00 440.30) scale(0.91 1)" font-size="11" font-weight="bold" text-anchor="start" fill="#111" stroke="#111" stroke-width="0.22">Light</text>
<text transform="translate(380.20 364.00) rotate(-90) scale(0.76 1)" font-size="12.6" font-weight="bold" text-anchor="start" fill="#111" letter-spacing="0.5" stroke="#111" stroke-width="0.22">Liver <tspan letter-spacing="2">CAT</tspan> (U/g)</text>
<rect x="610.80" y="202.10" width="55.00" height="50.20" fill="#fff" stroke="#333" stroke-width="0.8"/>
<rect x="615.60" y="209.80" width="17.00" height="5.20" fill="#fff" stroke="#111" stroke-width="0.7"/>
<text transform="translate(636.30 215.22) scale(0.89 1)" font-size="8.3" font-weight="bold" text-anchor="start" fill="#111" stroke="#111" stroke-width="0.22">Contr.</text>
<rect x="615.60" y="219.60" width="17.00" height="5.20" fill="url(#dI)" stroke="#111" stroke-width="0.7"/>
<text transform="translate(636.30 225.02) scale(0.89 1)" font-size="8.3" font-weight="bold" text-anchor="start" fill="#111" stroke="#111" stroke-width="0.22">Irrad.</text>
<rect x="615.60" y="229.80" width="17.00" height="5.20" fill="url(#dQ)" stroke="#111" stroke-width="0.7"/>
<text transform="translate(636.30 235.22) scale(0.89 1)" font-size="8.3" font-weight="bold" text-anchor="start" fill="#111" stroke="#111" stroke-width="0.22">Q</text>
<rect x="615.60" y="239.70" width="17.00" height="5.20" fill="#000" stroke="#111" stroke-width="0.7"/>
<text transform="translate(636.30 245.12) scale(0.89 1)" font-size="8.3" font-weight="bold" text-anchor="start" fill="#111" stroke="#111" stroke-width="0.22">Q+Irr.</text>
<rect x="397.20" y="428.10" width="38.00" height="40.40" fill="#d0d0d0"/>
<text transform="translate(413.70 456.80)" font-size="24.8" font-weight="normal" text-anchor="middle" fill="#111">d</text>
</g>
</svg>
</body></html>
